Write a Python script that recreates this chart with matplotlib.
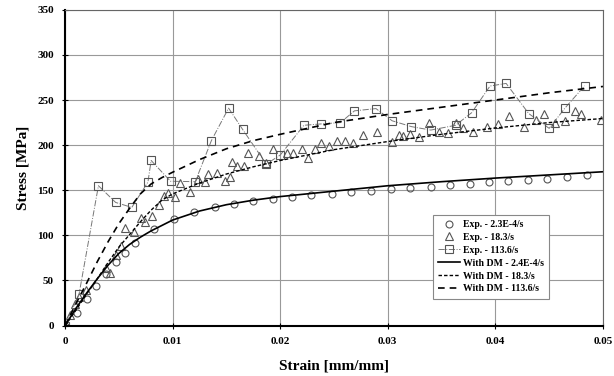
import matplotlib.pyplot as plt

# Exp. - 2.3E-4/s (circles)
strain_a = [0, 0.0011, 0.002, 0.0029, 0.0038, 0.0047, 0.0056, 0.0065, 0.0083, 0.0101,
            0.012, 0.0139, 0.0157, 0.0175, 0.0193, 0.0211, 0.0229, 0.0248, 0.0266, 0.0284,
            0.0303, 0.0321, 0.034, 0.0358, 0.0376, 0.0394, 0.0412, 0.043, 0.0448, 0.0467, 0.0485]
stress_a = [0, 14, 29, 44, 57, 70, 81, 91, 107, 118,
            125.5, 131, 135, 138, 140.5, 142.5, 144.5, 146, 147.7, 149,
            151, 152, 154, 155.5, 157, 159, 160, 161.4, 163, 164.7, 167]

# Exp. - 18.3/s (triangles)
strain_b = [0, 0.0005, 0.0009, 0.0013, 0.0019, 0.0038, 0.0042, 0.0047, 0.0052, 0.0056,
            0.0064, 0.0071, 0.0074, 0.0081, 0.0087, 0.0092, 0.0096, 0.0102, 0.0107, 0.0116,
            0.0124, 0.013, 0.0133, 0.0141, 0.0149, 0.0153, 0.0155, 0.016, 0.0166, 0.017,
            0.018, 0.0187, 0.0193, 0.0206, 0.0212, 0.022, 0.0226, 0.0232, 0.0238, 0.0245,
            0.0253, 0.026, 0.0268, 0.0277, 0.029, 0.0304, 0.031, 0.0314, 0.0321, 0.0329,
            0.0338, 0.0348, 0.0356, 0.0363, 0.037, 0.0379, 0.0392, 0.0402, 0.0413, 0.0427,
            0.0438, 0.0445, 0.0455, 0.0465, 0.0474, 0.048, 0.0498]
stress_b = [0, 12, 24, 32, 40, 63.5, 58.5, 78, 88, 108.5,
            104, 119, 115, 121, 134, 144, 147.5, 143, 158, 148.5,
            163, 159.5, 168, 169.5, 160.5, 165, 181.5, 177, 177, 191,
            188, 180.5, 195.5, 191, 191, 195.5, 185.5, 195.5, 202, 199,
            205, 204.5, 202, 211, 215, 204, 211, 210, 212, 208.5,
            225, 215, 213.5, 224, 218.5, 215, 220.5, 223, 232, 220.5,
            228, 235, 224, 227, 238, 235, 228]

# Exp. - 113.6/s (squares)
strain_c = [0, 0.0013, 0.0031, 0.0047, 0.0062, 0.0077, 0.008, 0.0098, 0.0121, 0.0136,
            0.0152, 0.0165, 0.0187, 0.02, 0.0222, 0.0238, 0.0256, 0.0269, 0.0289, 0.0304,
            0.0322, 0.034, 0.0363, 0.0378, 0.0395, 0.041, 0.0431, 0.045, 0.0465, 0.0483]
stress_c = [0, 35, 155, 136.5, 131, 159, 183, 160, 159.5, 205,
            241, 217.5, 179, 189, 222, 223.5, 225, 238, 240.5, 227,
            220.5, 216.7, 222, 236, 265.5, 268.4, 235, 218.6, 241.5, 265.8]

# With DM curves
strain_m = [0, 0.001, 0.002, 0.003, 0.004, 0.005, 0.006, 0.007, 0.008, 0.009, 0.01,
            0.0125, 0.015, 0.0175, 0.02, 0.025, 0.03, 0.035, 0.04, 0.045, 0.05]
dm_low = [0, 19, 36, 52, 67, 80, 90, 98, 105, 111, 117,
          127, 134, 139, 143, 149, 155, 159.5, 163.5, 167, 170.5]
dm_mid = [0, 17, 35, 52, 70, 87, 101, 115, 128, 139, 146,
          158, 168, 176, 183, 195, 204, 212, 219, 225, 229.5]
dm_high = [0, 24, 47, 71, 93, 113, 130, 146, 157, 164, 170,
           184, 196, 205, 212, 225, 234, 242, 250, 258, 265]

plt.rcParams['font.family'] = ['Liberation Serif', 'DejaVu Serif']
plt.rcParams['font.weight'] = 'bold'

fig = plt.figure(figsize=(6.14, 3.76), dpi=100)
ax = fig.add_axes([0.106, 0.134, 0.876, 0.84])

mk = dict(markerfacecolor='none', markeredgecolor='#555555', markeredgewidth=0.8)
ax.plot(strain_a, stress_a, 'o', markersize=5, label='Exp. - 2.3E-4/s', **mk)
ax.plot(strain_b, stress_b, '^', markersize=5.5, label='Exp. - 18.3/s', **mk)
ax.plot(strain_c, stress_c, 's', markersize=6, color='#777777', linestyle='-.',
        linewidth=0.7, label='Exp. - 113.6/s', **mk)
ax.plot(strain_m, dm_low, '-', color='black', linewidth=1.2, label='With DM - 2.4E-4/s')
ax.plot(strain_m, dm_mid, color='black', linewidth=1.0, dashes=(2.5, 1.5),
        label='With DM - 18.3/s')
ax.plot(strain_m, dm_high, color='black', linewidth=1.2, dashes=(4, 3),
        label='With DM - 113.6/s')

ax.set_xlim(0, 0.05)
ax.set_ylim(0, 350)
ax.set_xticks([0, 0.01, 0.02, 0.03, 0.04, 0.05])
ax.set_xticklabels(['0', '0.01', '0.02', '0.03', '0.04', '0.05'])
ax.set_yticks(range(0, 351, 50))
ax.grid(True, color='#999999', linewidth=0.8)
ax.set_axisbelow(True)
ax.tick_params(labelsize=8, direction='inout', length=4, width=0.8, pad=6)
for lab in ax.get_xticklabels() + ax.get_yticklabels():
    lab.set_fontweight('bold')
for s in ['left', 'bottom']:
    ax.spines[s].set_linewidth(1.5)
for s in ['top', 'right']:
    ax.spines[s].set_color('#666666')
ax.set_xlabel('Strain [mm/mm]', fontsize=11, fontweight='bold', labelpad=10)
ax.set_ylabel('Stress [MPa]', fontsize=11, fontweight='bold', labelpad=6)

leg = ax.legend(loc='lower left', bbox_to_anchor=(0.684, 0.085), fontsize=7,
                frameon=True, fancybox=False, edgecolor='#888888', framealpha=1,
                handlelength=2.2, labelspacing=0.4, borderpad=0.55, handletextpad=0.3,
                borderaxespad=0)
leg.get_frame().set_linewidth(0.8)

fig.savefig('out.png', dpi=100)
